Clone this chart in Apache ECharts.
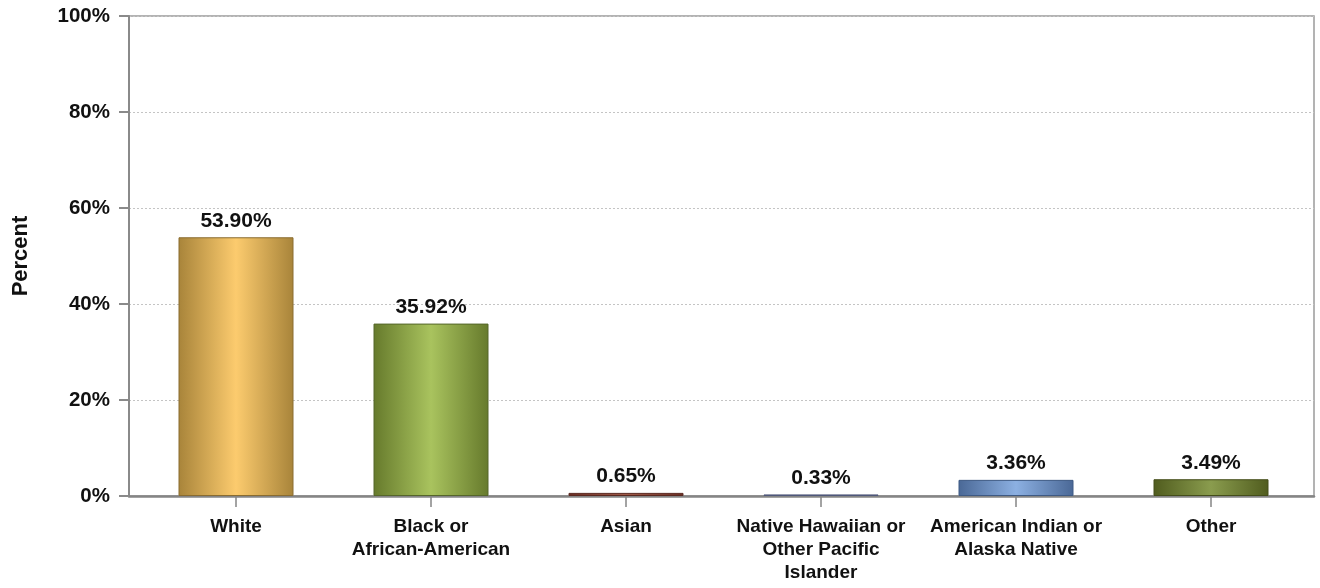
<!DOCTYPE html>
<html><head><meta charset="utf-8">
<script src="https://cdn.jsdelivr.net/npm/echarts@6/dist/echarts.min.js"></script>
<style>html,body{margin:0;padding:0;background:#fff}#c{width:1320px;height:588px}</style>
</head><body><div id="c"></div>
<script>
const categories = ['White', 'Black or\nAfrican-American', 'Asian', 'Native Hawaiian or\nOther Pacific\nIslander', 'American Indian or\nAlaska Native', 'Other'];
const values = [53.90, 35.92, 0.65, 0.33, 3.36, 3.49];
const yTicks = [0, 20, 40, 60, 80, 100];
const edgeColors = ['#a8843a', '#667a2c', '#6a2e24', '#5c6688', '#4a6896', '#505c1e'];
const midColors = ['#fccb6e', '#a9c35e', '#a05a48', '#8a94b4', '#8cb0e2', '#8a9c4e'];
const borderColors = ['#8a6c30', '#55662a', '#5a2820', '#50587a', '#3e5a84', '#444e1a'];

const font = 'Arial, "Liberation Sans", sans-serif';
const chart = echarts.init(document.getElementById('c'));
const data = values.map((v, i) => ({
  value: v,
  itemStyle: {
    color: new echarts.graphic.LinearGradient(0, 0, 1, 0, [
      {offset: 0, color: edgeColors[i]},
      {offset: 0.5, color: midColors[i]},
      {offset: 1, color: edgeColors[i]}
    ]),
    borderColor: borderColors[i],
    borderWidth: 1
  }
}));
chart.setOption({
  animation: false,
  grid: [
    {left: 129, right: 6, top: 16, bottom: 92, outerBoundsMode: 'none', containLabel: false,
     show: true, borderColor: '#9a9a9a', borderWidth: 1.5, backgroundColor: 'transparent'},
    {left: 138.5, right: 11.5, top: 16, bottom: 92, outerBoundsMode: 'none', containLabel: false}
  ],
  xAxis: [
    {gridIndex: 0, type: 'value', min: 0, max: 1, show: true,
     axisLine: {show: true, onZero: false, lineStyle: {color: '#858585', width: 2.5}},
     axisTick: {show: false}, axisLabel: {show: false}, splitLine: {show: false}},
    {gridIndex: 1, type: 'category', data: categories,
     axisLine: {show: false},
     axisTick: {show: true, alignWithLabel: true, length: 11, lineStyle: {color: '#858585', width: 1.5}},
     axisLabel: {interval: 0, margin: 19, color: '#111', fontFamily: font, fontWeight: 'bold', fontSize: 19, lineHeight: 23},
     splitLine: {show: false}}
  ],
  yAxis: [
    {gridIndex: 0, type: 'value', min: 0, max: 100, interval: 20,
     name: 'Percent', nameLocation: 'middle', nameGap: 97, nameRotate: 90,
     nameTextStyle: {color: '#111', fontFamily: font, fontWeight: 'bold', fontSize: 22},
     axisLine: {show: true, lineStyle: {color: '#8a8a8a', width: 2}},
     axisTick: {show: true, length: 10, lineStyle: {color: '#8a8a8a', width: 2}},
     axisLabel: {margin: 19, color: '#111', fontFamily: font, fontWeight: 'bold', fontSize: 20.5,
                 formatter: v => yTicks.includes(v) ? v + '%' : ''},
     splitLine: {show: true, lineStyle: {color: '#c4c4c4', type: [2, 2], width: 1}}},
    {gridIndex: 1, type: 'value', min: 0, max: 100, show: false, splitLine: {show: false}}
  ],
  series: [{
    type: 'bar', xAxisIndex: 1, yAxisIndex: 1, data: data, barWidth: 115,
    label: {show: true, position: 'top', distance: 6, color: '#111', fontFamily: font, fontWeight: 'bold', fontSize: 21,
            formatter: p => p.value.toFixed(2) + '%'}
  }]
});
</script></body></html>
